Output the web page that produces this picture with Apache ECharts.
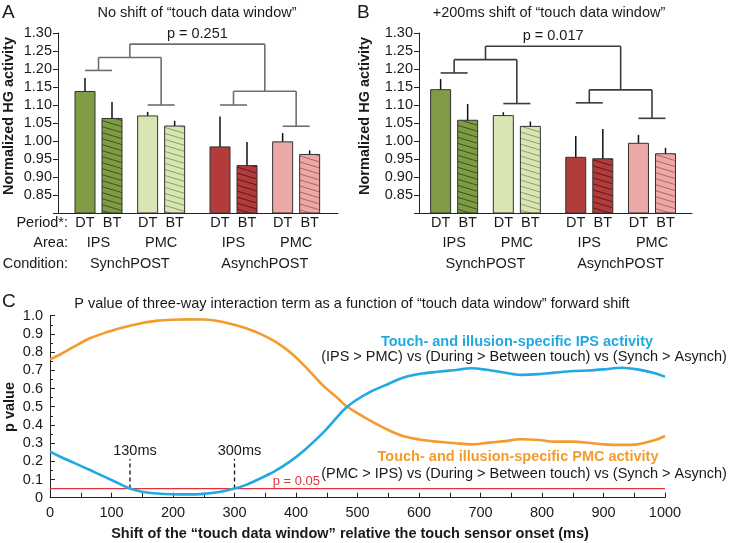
<!DOCTYPE html>
<html><head><meta charset="utf-8">
<script src="https://cdn.jsdelivr.net/npm/echarts@6/dist/echarts.min.js"></script>
<style>html,body{margin:0;padding:0;background:#fff}#c{width:729px;height:543px}</style>
</head><body><div id="c"></div>
<script>
// ---------------- DATA ----------------
const periods = ['DT', 'BT'];
const areas = ['IPS', 'PMC'];
const conditions = ['SynchPOST', 'AsynchPOST'];
const rowHeaders = ['Period*:', 'Area:', 'Condition:'];
const panelTitles = ['No shift of “touch data window”', '+200ms shift of “touch data window”'];
const yAxisTitle = 'Normalized HG activity';

// bar order: Synch-IPS-DT, Synch-IPS-BT, Synch-PMC-DT, Synch-PMC-BT, Asynch-IPS-DT, Asynch-IPS-BT, Asynch-PMC-DT, Asynch-PMC-BT
const meanA = [1.139, 1.064, 1.071, 1.043, 0.985, 0.933, 0.999, 0.964];
const lowA  = [1.099, 1.019, 1.059, 1.029, 0.902, 0.869, 0.974, 0.953];
const highA = [1.175, 1.108, 1.081, 1.056, 1.068, 0.997, 1.022, 0.974];
const pairLevelsA = [1.196, 1.100, 1.100, 1.041];
const condLevelsA = [1.232, 1.138];
const topLevelA = 1.269;
const pTextA = 'p = 0.251';

const meanB = [1.144, 1.059, 1.072, 1.042, 0.956, 0.952, 0.995, 0.966];
const lowB  = [1.117, 1.016, 1.066, 1.031, 0.897, 0.869, 0.974, 0.951];
const highB = [1.172, 1.103, 1.080, 1.054, 1.014, 1.033, 1.017, 0.981];
const pairLevelsB = [1.189, 1.104, 1.106, 1.063];
const condLevelsB = [1.226, 1.142];
const topLevelB = 1.263;
const pTextB = 'p = 0.017';

// Panel C
const panelCTitle = 'P value of three-way interaction term as a function of “touch data window” forward shift';
const shiftMs = [0, 15, 40, 65, 90, 115, 130, 150, 175, 200, 225, 250, 275, 300, 320, 340, 365, 390, 415, 445, 470, 480, 495, 520, 550, 575, 605, 630, 660, 685, 710, 740, 765, 795, 820, 850, 875, 900, 930, 955, 985, 1000];
const ipsP = [0.255, 0.228, 0.190, 0.152, 0.113, 0.073, 0.050, 0.033, 0.023, 0.019, 0.018, 0.021, 0.031, 0.050, 0.072, 0.103, 0.145, 0.198, 0.265, 0.360, 0.455, 0.490, 0.530, 0.580, 0.625, 0.660, 0.682, 0.692, 0.702, 0.711, 0.703, 0.687, 0.675, 0.679, 0.687, 0.696, 0.699, 0.705, 0.714, 0.705, 0.683, 0.665];
const pmcP = [0.760, 0.784, 0.832, 0.876, 0.907, 0.932, 0.945, 0.960, 0.973, 0.978, 0.980, 0.979, 0.970, 0.950, 0.930, 0.903, 0.860, 0.800, 0.720, 0.613, 0.540, 0.508, 0.474, 0.425, 0.372, 0.337, 0.317, 0.308, 0.299, 0.293, 0.301, 0.311, 0.321, 0.317, 0.308, 0.308, 0.302, 0.293, 0.290, 0.293, 0.318, 0.339];
const pThreshold = 0.05;
const thresholdLabel = 'p = 0.05';
const thresholdLabelMs = 362;
const windowMarksMs = [130, 300];
const windowMarkTop = 0.213;
const ipsTitle = 'Touch- and illusion-specific IPS activity';
const ipsContrast = '(IPS > PMC) vs (During > Between touch) vs (Synch > Asynch)';
const pmcTitle = 'Touch- and illusion-specific PMC activity';
const pmcContrast = '(PMC > IPS) vs (During > Between touch) vs (Synch > Asynch)';
const xTitleC = 'Shift of the “touch data window” relative the touch sensor onset (ms)';
const yTitleC = 'p value';

// ---------------- STYLE ----------------
const FONT = '"Liberation Sans", Arial, Helvetica, sans-serif';
const TXT = '#1a1a1a';
const fillColors = [['#7f9c45', '#d8e6b3'], ['#b23b3b', '#eca8a6']];   // [condition][area]
const hatchColors = [['#3f5220', '#8d9e6c'], ['#5e1a1a', '#b06464']];
const BLUE = '#22a9e3', ORANGE = '#f39c2c', RED = '#e5323a';

function hatch(bg, line) {
  const c = document.createElement('canvas');
  c.width = 20; c.height = 6;
  const g = c.getContext('2d');
  g.fillStyle = bg; g.fillRect(0, 0, 20, 6);
  g.strokeStyle = line; g.lineWidth = 1;
  for (const dy of [-6, 0, 6]) { g.beginPath(); g.moveTo(0, dy); g.lineTo(20, dy + 6); g.stroke(); }
  return { image: c, repeat: 'repeat' };
}

function xPos(i) {
  const c = Math.floor(i / 4), a = Math.floor(i / 2) % 2, p = i % 2;
  return 1 + c * 5 + a * 2.32 + p;
}

function panelSeries(k, means, lows, highs, pairLevels, condLevels, topLevel, pText, bracketColor) {
  const bars = means.map((m, i) => {
    const c = Math.floor(i / 4), a = Math.floor(i / 2) % 2, p = i % 2;
    const col = fillColors[c][a];
    return { value: [xPos(i), m], itemStyle: { color: p === 0 ? col : hatch(col, hatchColors[c][a]) } };
  });
  const errData = means.map((m, i) => [xPos(i), lows[i], highs[i]]);
  const pairMid = j => (xPos(2 * j) + xPos(2 * j + 1)) / 2;
  const condMid = c => (pairMid(2 * c) + pairMid(2 * c + 1)) / 2;
  const brackets = [];
  for (let j = 0; j < 4; j++) brackets.push([xPos(2 * j), xPos(2 * j + 1), pairLevels[j], condLevels[Math.floor(j / 2)]]);
  for (let c = 0; c < 2; c++) brackets.push([pairMid(2 * c), pairMid(2 * c + 1), condLevels[c], topLevel]);
  brackets.push([condMid(0), condMid(1), topLevel, topLevel]);

  const labels = [], labelTexts = [];
  for (let i = 0; i < 8; i++) { labels.push([xPos(i), 0.8, 0]); labelTexts.push(periods[i % 2]); }
  for (let j = 0; j < 4; j++) { labels.push([pairMid(j), 0.8, 1]); labelTexts.push(areas[j % 2]); }
  for (let c = 0; c < 2; c++) { labels.push([condMid(c), 0.8, 2]); labelTexts.push(conditions[c]); }
  const rowOffsets = [10, 30, 51];

  return [
    { type: 'bar', xAxisIndex: k, yAxisIndex: k, barWidth: 21, data: bars,
      itemStyle: { borderColor: '#333', borderWidth: 1 }, silent: true },
    { type: 'custom', xAxisIndex: k, yAxisIndex: k, data: errData, encode: { x: 0, y: [1, 2] },
      renderItem: (params, api) => {
        const a = api.coord([api.value(0), api.value(1)]), b = api.coord([api.value(0), api.value(2)]);
        return { type: 'line', shape: { x1: a[0], y1: a[1], x2: b[0], y2: b[1] }, style: { stroke: '#111', lineWidth: 1.5 } };
      } },
    { type: 'custom', xAxisIndex: k, yAxisIndex: k, data: brackets, encode: { x: [0, 1], y: [2, 3] },
      renderItem: (params, api) => {
        const x1 = api.value(0), x2 = api.value(1), lv = api.value(2), pl = api.value(3);
        const p1 = api.coord([x1, lv]), p2 = api.coord([x2, lv]);
        const mid = (x1 + x2) / 2;
        const pm = api.coord([mid, lv]), pt = api.coord([mid, pl]);
        const st = { stroke: bracketColor, lineWidth: 1.6 };
        const children = [{ type: 'line', shape: { x1: p1[0], y1: p1[1], x2: p2[0], y2: p2[1] }, style: st }];
        if (pl > lv) children.push({ type: 'line', shape: { x1: pm[0], y1: pm[1], x2: pt[0], y2: pt[1] }, style: st });
        if (params.dataIndex === brackets.length - 1) {
          children.push({ type: 'text', x: pm[0], y: pm[1] - 10,
            style: { text: pText, fill: TXT, font: '14.5px ' + FONT, textAlign: 'center', textVerticalAlign: 'middle', align: 'center', verticalAlign: 'middle' } });
        }
        return { type: 'group', children };
      } },
    { type: 'custom', xAxisIndex: k, yAxisIndex: k, data: labels, encode: { x: 0, y: 1 },
      renderItem: (params, api) => {
        const p = api.coord([api.value(0), api.value(1)]);
        const row = api.value(2);
        return { type: 'text', x: p[0], y: p[1] + rowOffsets[row],
          style: { text: labelTexts[params.dataIndex], fill: TXT, font: '14.5px ' + FONT, textAlign: 'center', textVerticalAlign: 'middle', align: 'center', verticalAlign: 'middle' } };
      } }
  ];
}

const chart = echarts.init(document.getElementById('c'), null, { renderer: 'canvas' });

const axisLineStyle = { show: true, onZero: false, lineStyle: { color: '#222', width: 1 } };
function barYAxis(k) {
  return { gridIndex: k, type: 'value', min: 0.8, max: 1.3, interval: 0.05,
    axisLine: axisLineStyle, axisTick: { show: true, inside: false, length: 5, lineStyle: { color: '#222' } },
    axisLabel: { margin: 6, fontSize: 14.5, fontFamily: FONT, color: TXT, formatter: v => v < 0.825 ? '' : v.toFixed(2) },
    splitLine: { show: false } };
}
function barXAxis(k, min, max) {
  return { gridIndex: k, type: 'value', min, max, axisLine: axisLineStyle, axisTick: { show: false }, axisLabel: { show: false }, splitLine: { show: false } };
}

const tStyle = (text, size, bold, color, align) => ({ text, fill: color || TXT, font: (bold ? 'bold ' : '') + size + 'px ' + FONT,
  textAlign: align || 'center', textVerticalAlign: 'middle', align: align || 'center', verticalAlign: 'middle' });

const graphic = [
  { type: 'text', x: 2, y: 13, style: tStyle('A', 19, false, TXT, 'left') },
  { type: 'text', x: 357, y: 13, style: tStyle('B', 19, false, TXT, 'left') },
  { type: 'text', x: 2, y: 302, style: tStyle('C', 19, false, TXT, 'left') },
  { type: 'text', x: 197, y: 13, style: tStyle(panelTitles[0], 14.5) },
  { type: 'text', x: 549, y: 13, style: tStyle(panelTitles[1], 14.5) },
  { type: 'text', x: 352, y: 304, style: tStyle(panelCTitle, 14.5) },
  { type: 'text', x: 9, y: 116, rotation: Math.PI / 2, style: tStyle(yAxisTitle, 14.5, true) },
  { type: 'text', x: 365, y: 116, rotation: Math.PI / 2, style: tStyle(yAxisTitle, 14.5, true) },
  { type: 'text', x: 10, y: 407, rotation: Math.PI / 2, style: tStyle(yTitleC, 14.5, true) },
  { type: 'text', x: 350, y: 534, style: tStyle(xTitleC, 14.5, true) },
  { type: 'text', x: 517, y: 342, style: tStyle(ipsTitle, 14.5, true, BLUE) },
  { type: 'text', x: 524, y: 357, style: tStyle(ipsContrast, 14.5) },
  { type: 'text', x: 518, y: 457, style: tStyle(pmcTitle, 14.5, true, ORANGE) },
  { type: 'text', x: 524, y: 473.5, style: tStyle(pmcContrast, 14.5) }
];
rowHeaders.forEach((h, r) => graphic.push({ type: 'text', x: 68, y: [223, 243, 264][r], style: tStyle(h, 14.5, false, TXT, 'right') }));

const seriesC = [
  { type: 'line', xAxisIndex: 2, yAxisIndex: 2, data: [[0, pThreshold], [1000, pThreshold]], showSymbol: false, silent: true,
    lineStyle: { color: RED, width: 1.3 } },
  { type: 'line', xAxisIndex: 2, yAxisIndex: 2, data: shiftMs.map((x, i) => [x, pmcP[i]]), showSymbol: false, smooth: 0.3, silent: true,
    lineStyle: { color: ORANGE, width: 2.6 } },
  { type: 'line', xAxisIndex: 2, yAxisIndex: 2, data: shiftMs.map((x, i) => [x, ipsP[i]]), showSymbol: false, smooth: 0.3, silent: true,
    lineStyle: { color: BLUE, width: 2.6 } },
  { type: 'custom', xAxisIndex: 2, yAxisIndex: 2, data: windowMarksMs.map(m => [m, pThreshold, windowMarkTop]), encode: { x: 0, y: [1, 2] },
    renderItem: (params, api) => {
      const a = api.coord([api.value(0), api.value(1)]), b = api.coord([api.value(0), api.value(2)]);
      return { type: 'group', children: [
        { type: 'line', shape: { x1: a[0], y1: a[1], x2: b[0], y2: b[1] }, style: { stroke: '#111', lineWidth: 1.3, lineDash: [4, 3] } },
        { type: 'text', x: b[0] + 5, y: b[1] - 8, style: tStyle(windowMarksMs[params.dataIndex] + 'ms', 14.5) }
      ] };
    } },
  { type: 'custom', xAxisIndex: 2, yAxisIndex: 2, data: [[thresholdLabelMs, pThreshold]], encode: { x: 0, y: 1 },
    renderItem: (params, api) => {
      const p = api.coord([api.value(0), api.value(1)]);
      return { type: 'text', x: p[0], y: p[1] - 7, style: tStyle(thresholdLabel, 13, false, RED, 'left') };
    } }
];

const option = {
  animation: false,
  grid: [
    { left: 58, top: 33, width: 280, height: 180, containLabel: false, outerBoundsMode: 'none' },
    { left: 419, top: 33, width: 273, height: 180, containLabel: false, outerBoundsMode: 'none' },
    { left: 50, top: 315.7, width: 615, height: 182, containLabel: false, outerBoundsMode: 'none' }
  ],
  xAxis: [
    barXAxis(0, 0, 10.37),
    barXAxis(1, 0.2, 10.3),
    { gridIndex: 2, type: 'value', min: 0, max: 1000, interval: 100,
      axisLine: axisLineStyle, axisTick: { show: true, inside: true, length: 5, lineStyle: { color: '#222' } },
      minorTick: { show: true, splitNumber: 2, length: 5, lineStyle: { color: '#222' } },
      axisLabel: { margin: 8, fontSize: 14.5, fontFamily: FONT, color: TXT, formatter: v => String(Math.round(v)) },
      splitLine: { show: false }, minorSplitLine: { show: false } }
  ],
  yAxis: [
    barYAxis(0), barYAxis(1),
    { gridIndex: 2, type: 'value', min: 0, max: 1, interval: 0.1,
      axisLine: axisLineStyle, axisTick: { show: true, inside: true, length: 5, lineStyle: { color: '#222' } },
      minorTick: { show: true, splitNumber: 2, length: 3, lineStyle: { color: '#222' } },
      axisLabel: { margin: 7, fontSize: 14.5, fontFamily: FONT, color: TXT, formatter: v => v === 0 ? '0' : v.toFixed(1) },
      splitLine: { show: false }, minorSplitLine: { show: false } }
  ],
  series: [
    ...panelSeries(0, meanA, lowA, highA, pairLevelsA, condLevelsA, topLevelA, pTextA, '#6e6e6e'),
    ...panelSeries(1, meanB, lowB, highB, pairLevelsB, condLevelsB, topLevelB, pTextB, '#3c3c3c'),
    ...seriesC
  ],
  graphic
};
chart.setOption(option);
</script>
</body></html>
